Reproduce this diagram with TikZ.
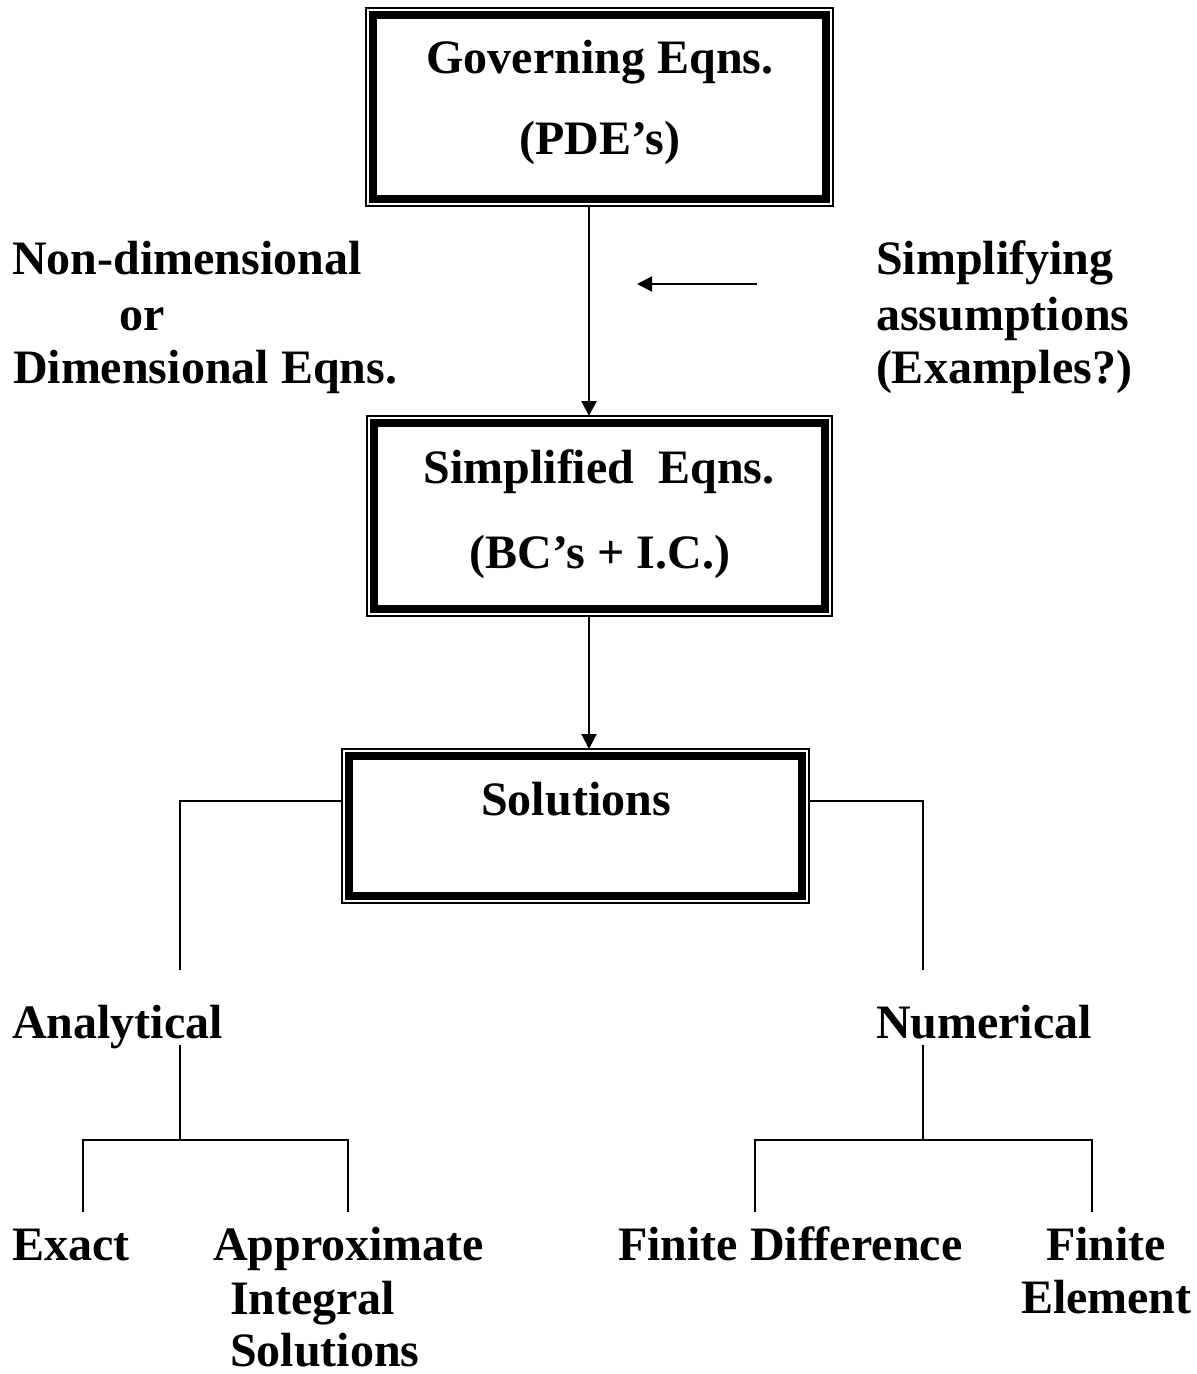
\documentclass[tikz,border=0pt]{standalone}
\usepackage{fontspec}
\setmainfont{Liberation Serif}
\usetikzlibrary{arrows.meta,calc}
\begin{document}
\begin{tikzpicture}[x=0.5pt,y=-0.5pt,
  framebox/.style={draw,line width=0.6pt,inner sep=0pt,outer sep=0pt,
    path picture={\draw[line width=3.6pt]
      ([shift={(3.5pt,-3.5pt)}]path picture bounding box.north west) rectangle
      ([shift={(-3.5pt,3.5pt)}]path picture bounding box.south east);}},
  txt/.style={font=\fontsize{24pt}{27.5pt}\selectfont\bfseries,inner sep=0pt,outer sep=0pt},
  ln/.style={line width=1pt},
  arr/.style={line width=1pt,-{Triangle[length=7.5pt,width=7.5pt]}}]
\fill[white] (0,0) rectangle (1196,1374);
\useasboundingbox (0,0) rectangle (1196,1374);

% boxes
\node[framebox,minimum width=233.5pt,minimum height=99pt] (gov) at (599.5,107) {};
\node[framebox,minimum width=232.5pt,minimum height=100pt] (simp) at (599.5,516) {};
\node[framebox,minimum width=233.5pt,minimum height=77pt] (sol) at (575.5,826) {};

% box texts
\node[txt,anchor=base] (t1) at (600,74) {Governing Eqns.};
\node[txt,anchor=base] (t2) at (600,155) {(PDE’s)};
\node[txt,anchor=base] (t3) at (599,483) {Simplified\ \ Eqns.};
\node[txt,anchor=base] (t4) at (600,568) {(BC’s + I.C.)};
\node[txt,anchor=base] (t5) at (576,815) {Solutions};

% side texts
\node[txt,anchor=base west] (l1) at (12,275) {Non-dimensional};
\node[txt,anchor=base west] (l2) at (119,330) {or};
\node[txt,anchor=base west] (l3) at (13,383) {Dimensional Eqns.};
\node[txt,anchor=base west] (r1) at (876,275) {Simplifying};
\node[txt,anchor=base west] (r2) at (876,330) {assumptions};
\node[txt,anchor=base west] (r3) at (876,383) {(Examples?)};

% branches
\node[txt,anchor=base west] (ana) at (12,1038) {Analytical};
\node[txt,anchor=base west] (num) at (876,1038) {Numerical};
\node[txt,anchor=base west] (ex) at (12,1260) {Exact};
\node[txt,anchor=base west] (ap1) at (213,1260) {Approximate};
\node[txt,anchor=base west] (ap2) at (230,1314) {Integral};
\node[txt,anchor=base west] (ap3) at (230,1366) {Solutions};
\node[txt,anchor=base west] (fd) at (618,1260) {Finite Difference};
\node[txt,anchor=base west] (fe1) at (1046,1260) {Finite};
\node[txt,anchor=base west] (fe2) at (1021,1313) {Element};

% coordinates
\coordinate (cx) at (589,0);
\coordinate (as) at (757,284);
\coordinate (ae) at (637,284);
\coordinate (la) at (180,970);
\coordinate (ra) at (923,970);
\coordinate (lb) at (180,1045);
\coordinate (lc) at (180,1140);
\coordinate (rb) at (923,1045);
\coordinate (rc) at (923,1140);
\coordinate (e1) at (83,1212);
\coordinate (e2) at (348,1212);
\coordinate (e3) at (755,1212);
\coordinate (e4) at (1092,1212);

% connectors
\draw[arr] (gov.south -| cx) -- (simp.north -| cx);
\draw[arr] (as) -- (ae);
\draw[arr] (simp.south -| cx) -- (sol.north -| cx);
\draw[ln] (sol.west |- 0,801) -| (la);
\draw[ln] (sol.east |- 0,801) -| (ra);
\draw[ln] (lb) -- (lc);
\draw[ln] (e1) |- (lc) -| (e2);
\draw[ln] (rb) -- (rc);
\draw[ln] (e3) |- (rc) -| (e4);
\end{tikzpicture}
\end{document}
